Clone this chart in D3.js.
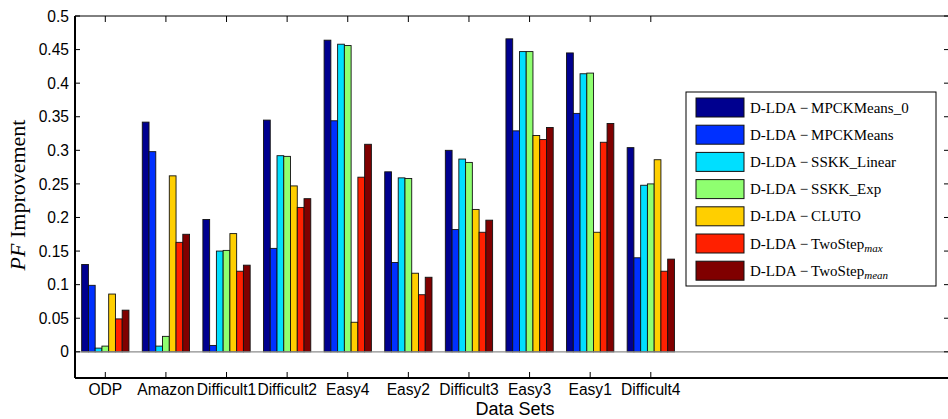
<!DOCTYPE html>
<html lang="en">
<head>
<meta charset="UTF-8">
<title>PF Improvement by Data Set</title>
<script src="https://d3js.org/d3.v7.min.js"></script>
<style>
  html, body { margin: 0; padding: 0; background: #fff; }
  svg { display: block; }
  .tick-label { font-family: "Liberation Sans", Arial, sans-serif; font-size: 15.6px; fill: #000; }
  .legend-text { font-family: "Liberation Serif", "Times New Roman", serif; font-size: 15px; fill: #000; }
</style>
</head>
<body>
<svg id="chart" width="948" height="419"></svg>
<script>
// data
const categories = ["ODP", "Amazon", "Difficult1", "Difficult2", "Easy4", "Easy2", "Difficult3", "Easy3", "Easy1", "Difficult4"];

const mpckMeans0  = [0.130, 0.342, 0.197, 0.345, 0.464, 0.268, 0.300, 0.466, 0.445, 0.304];
const mpckMeans   = [0.099, 0.298, 0.0095, 0.154, 0.344, 0.133, 0.182, 0.329, 0.355, 0.140];
const sskkLinear  = [0.0055, 0.0085, 0.150, 0.292, 0.458, 0.259, 0.287, 0.447, 0.414, 0.248];
const sskkExp     = [0.0085, 0.023, 0.151, 0.291, 0.456, 0.258, 0.282, 0.447, 0.415, 0.250];
const cluto       = [0.086, 0.262, 0.176, 0.247, 0.044, 0.117, 0.212, 0.322, 0.178, 0.286];
const twoStepMax  = [0.049, 0.163, 0.120, 0.215, 0.260, 0.085, 0.178, 0.316, 0.312, 0.120];
const twoStepMean = [0.062, 0.175, 0.129, 0.228, 0.309, 0.111, 0.196, 0.334, 0.340, 0.138];

const seriesNames = ["D-LDA\u2009\u2212\u2009MPCKMeans_0", "D-LDA\u2009\u2212\u2009MPCKMeans", "D-LDA\u2009\u2212\u2009SSKK_Linear",
                     "D-LDA\u2009\u2212\u2009SSKK_Exp", "D-LDA\u2009\u2212\u2009CLUTO", "D-LDA\u2009\u2212\u2009TwoStep", "D-LDA\u2009\u2212\u2009TwoStep"];
const seriesSubs = ["", "", "", "", "", "max", "mean"];
const colors = ["#00008f", "#0030ff", "#00dfff", "#8fff70", "#ffcf00", "#ff2000", "#800000"];
const seriesValues = [mpckMeans0, mpckMeans, sskkLinear, sskkExp, cluto, twoStepMax, twoStepMean];

const yTicks = [0, 0.05, 0.1, 0.15, 0.2, 0.25, 0.3, 0.35, 0.4, 0.45, 0.5];

const svg = d3.select("#chart");
// right edge of the axes box sits just past the picture, as in the reference
const plotLeft = 75, plotRight = 949, plotTop = 16, plotBottom = 378;

// x in category units (1..10), like a matlab bar plot
const x = d3.scaleLinear().domain([0.5, 14.92]).range([plotLeft, plotRight]);
const y = d3.scaleLinear().domain([-0.039, 0.5]).range([plotBottom, plotTop]);
const slot = x(2) - x(1);
const inner = d3.scaleBand().domain(d3.range(seriesValues.length))
    .range([-slot * 0.39, slot * 0.39]).paddingInner(0);

// bars
seriesValues.forEach((vals, s) => {
    svg.append("g").selectAll("rect")
        .data(vals)
        .enter().append("rect")
        .attr("x", (d, i) => x(i + 1) + inner(s))
        .attr("y", d => y(d))
        .attr("width", inner.bandwidth())
        .attr("height", d => y(0) - y(d))
        .attr("fill", colors[s])
        .attr("stroke", "#111")
        .attr("stroke-width", 0.9);
});

// zero baseline
svg.append("line")
    .attr("x1", plotLeft).attr("x2", plotRight)
    .attr("y1", y(0)).attr("y2", y(0))
    .attr("stroke", "#8c8c8c").attr("stroke-width", 1.2);

// box
svg.append("line").attr("x1", plotLeft).attr("x2", plotRight).attr("y1", plotTop).attr("y2", plotTop)
    .attr("stroke", "#000").attr("stroke-width", 1);
svg.append("line").attr("x1", plotLeft).attr("x2", plotRight).attr("y1", plotBottom).attr("y2", plotBottom)
    .attr("stroke", "#000").attr("stroke-width", 2);
svg.append("line").attr("x1", plotLeft).attr("x2", plotLeft).attr("y1", plotTop).attr("y2", plotBottom)
    .attr("stroke", "#000").attr("stroke-width", 2);
svg.append("line").attr("x1", plotRight).attr("x2", plotRight).attr("y1", plotTop).attr("y2", plotBottom)
    .attr("stroke", "#000").attr("stroke-width", 1);

// y ticks (inward, both sides) and labels
const yAxis = svg.append("g");
yTicks.forEach(t => {
    yAxis.append("line").attr("x1", plotLeft).attr("x2", plotLeft + 5).attr("y1", y(t)).attr("y2", y(t))
        .attr("stroke", "#000").attr("stroke-width", 1);
    yAxis.append("line").attr("x1", plotRight - 5).attr("x2", plotRight).attr("y1", y(t)).attr("y2", y(t))
        .attr("stroke", "#000").attr("stroke-width", 1);
    yAxis.append("text").attr("class", "tick-label")
        .attr("x", plotLeft - 6).attr("y", y(t)).attr("dy", "0.36em")
        .attr("text-anchor", "end")
        .text(String(+t.toFixed(2)));
});

// x ticks (inward, top and bottom) and labels
const xAxis = svg.append("g");
categories.forEach((c, i) => {
    const cx = x(i + 1);
    xAxis.append("line").attr("x1", cx).attr("x2", cx).attr("y1", plotTop).attr("y2", plotTop + 6)
        .attr("stroke", "#000").attr("stroke-width", 1);
    xAxis.append("line").attr("x1", cx).attr("x2", cx).attr("y1", plotBottom - 6).attr("y2", plotBottom)
        .attr("stroke", "#000").attr("stroke-width", 1);
    xAxis.append("text").attr("class", "tick-label")
        .attr("x", cx).attr("y", 395.4)
        .attr("text-anchor", "middle")
        .text(c);
});

// axis titles
svg.append("text")
    .attr("x", 515).attr("y", 415)
    .attr("text-anchor", "middle")
    .style("font-family", "'Liberation Sans', Arial, sans-serif")
    .style("font-size", "18px")
    .text("Data Sets");

const yTitle = svg.append("text")
    .attr("transform", "translate(25,195) rotate(-90)")
    .attr("text-anchor", "middle")
    .style("font-family", "'Liberation Serif', 'Times New Roman', serif")
    .style("font-size", "22px");
yTitle.append("tspan").style("font-style", "italic").text("PF");
yTitle.append("tspan").text(" Improvement");

// legend
const legend = svg.append("g").attr("transform", "translate(686,92)");
legend.append("rect")
    .attr("width", 250).attr("height", 194)
    .attr("fill", "#fff").attr("stroke", "#000").attr("stroke-width", 1);
seriesNames.forEach((name, s) => {
    const row = legend.append("g").attr("transform", `translate(10,${6 + s * 27.2})`);
    row.append("rect")
        .attr("width", 48).attr("height", 19)
        .attr("fill", colors[s]).attr("stroke", "#111").attr("stroke-width", 1);
    const t = row.append("text").attr("class", "legend-text")
        .attr("x", 54).attr("y", 14.5);
    t.append("tspan").text(name);
    if (seriesSubs[s]) {
        t.append("tspan").attr("dy", 3).style("font-size", "11px").style("font-style", "italic")
            .text(seriesSubs[s]);
    }
});
</script>
</body>
</html>
